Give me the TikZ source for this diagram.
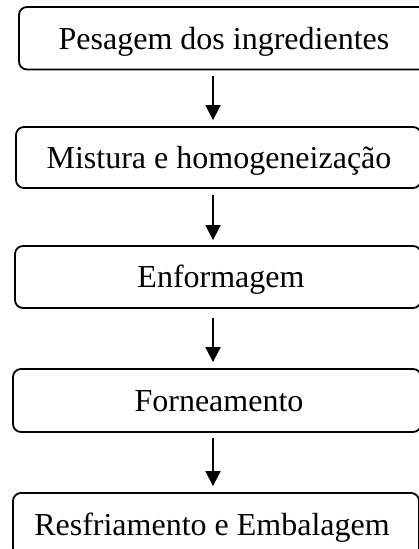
\documentclass[tikz,border=0pt]{standalone}
\usepackage{fontspec}
\setmainfont{Liberation Serif}
\usetikzlibrary{arrows.meta,calc}
\tikzset{
  procbox/.style={draw=black, line width=1.8pt, rounded corners=8pt, rectangle, inner sep=0pt},
  lbl/.style={font=\fontsize{32}{38}\selectfont, anchor=base, inner sep=0pt},
  arr/.style={line width=1.8pt, -{Triangle[width=15pt,length=15pt]}}
}
\begin{document}
\begin{tikzpicture}[x=1pt,y=1pt]
\useasboundingbox (0,0) rectangle (419,549);
\node[procbox, minimum width=412pt, minimum height=62.5pt] (b1) at (225,510.75) {};
\node[procbox, minimum width=405pt, minimum height=61pt] (b2) at (218.5,391.5) {};
\node[procbox, minimum width=406pt, minimum height=62pt] (b3) at (218,272) {};
\node[procbox, minimum width=408pt, minimum height=63pt] (b4) at (217,148.5) {};
\node[procbox, minimum width=406pt, minimum height=63pt] (b5) at (216,24.5) {};
\node[lbl] (t1) at (224,499) {Pesagem dos ingredientes};
\node[lbl] (t2) at (219,380) {Mistura e homogeneização};
\node[lbl] (t3) at (221,261) {Enformagem};
\node[lbl] (t4) at (219,137) {Forneamento};
\node[lbl] (t5) at (212,13) {Resfriamento e Embalagem};
\coordinate (ax) at (213,0);
\draw[arr] ($(b1.south -| ax)+(0,-5.5)$) -- ($(b2.north -| ax)+(0,6)$);
\draw[arr] ($(b2.south -| ax)+(0,-6)$) -- ($(b3.north -| ax)+(0,5)$);
\draw[arr] ($(b3.south -| ax)+(0,-9)$) -- ($(b4.north -| ax)+(0,6)$);
\draw[arr] ($(b4.south -| ax)+(0,-5)$) -- ($(b5.north -| ax)+(0,6)$);
\end{tikzpicture}
\end{document}
